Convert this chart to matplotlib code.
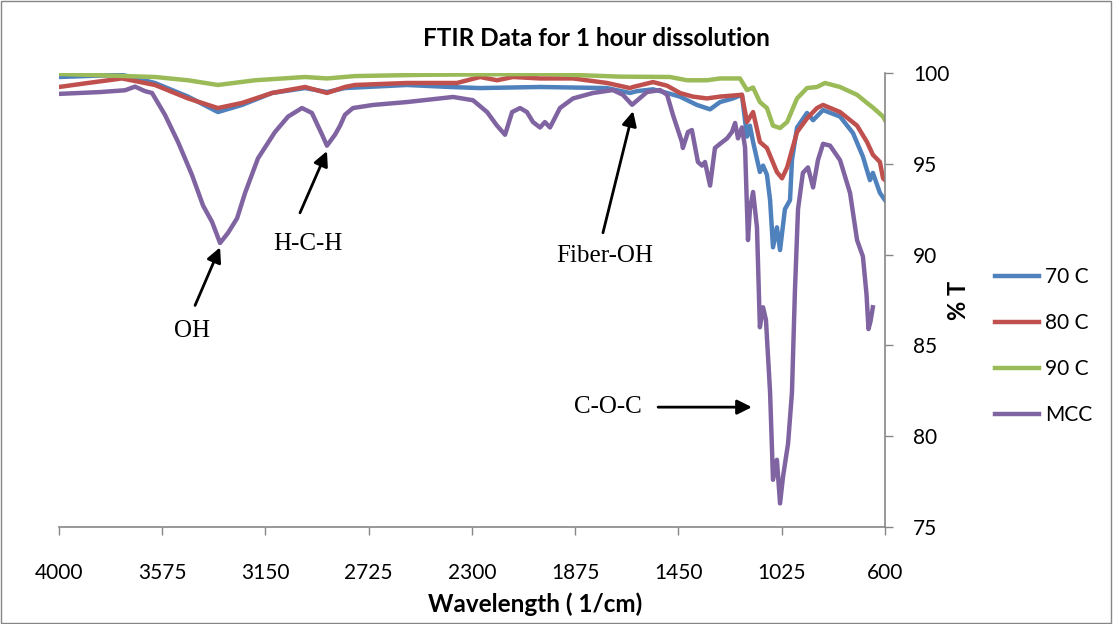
import matplotlib
matplotlib.use("Agg")
import matplotlib.pyplot as plt
from matplotlib.patches import Rectangle

# ---- data (wavenumber in 1/cm, %T) ----
wn_70 = [4000, 3741, 3605, 3469, 3346, 3247, 3123, 2987, 2897, 2823, 2568, 2391,
         2267, 2020, 1744, 1650, 1621, 1555, 1497, 1444, 1374, 1320, 1279, 1226,
         1189, 1168, 1156, 1143, 1115, 1102, 1086, 1073, 1061, 1045, 1032, 1012,
         991, 983, 962, 921, 896, 855, 785, 732, 691, 662, 650, 621, 600]
t_70 = [99.78, 99.9, 99.45, 98.7, 97.85, 98.24, 98.9, 99.17, 98.95, 99.17, 99.34, 99.23,
        99.17, 99.23, 99.17, 98.9, 99.0, 99.1, 98.9, 98.7, 98.24, 98.0, 98.4, 98.6,
        98.8, 96.5, 97.1, 96.2, 94.55, 94.9, 94.4, 93.0, 90.4, 91.5, 90.25, 92.5,
        93.0, 95.2, 97.0, 97.8, 97.4, 97.96, 97.6, 96.7, 95.4, 94.1, 94.5, 93.4, 93.0]

wn_80 = [4000, 3881, 3741, 3605, 3469, 3346, 3247, 3123, 2987, 2897, 2823, 2782,
         2568, 2362, 2267, 2197, 2131, 2020, 1884, 1744, 1650, 1637, 1555, 1497,
         1444, 1391, 1333, 1279, 1189, 1168, 1143, 1115, 1086, 1045, 1024, 1003,
         962, 921, 880, 855, 785, 715, 674, 650, 621, 608, 600]
t_80 = [99.23, 99.45, 99.7, 99.34, 98.6, 98.07, 98.35, 98.9, 99.23, 98.9, 99.23, 99.34,
        99.45, 99.45, 99.78, 99.6, 99.78, 99.7, 99.7, 99.45, 99.17, 99.23, 99.5, 99.3,
        98.9, 98.7, 98.6, 98.7, 98.8, 97.3, 97.85, 96.2, 95.87, 94.55, 94.2, 94.8,
        96.75, 97.5, 98.07, 98.24, 97.85, 97.1, 96.2, 95.5, 95.1, 94.2, 94.1]

wn_90 = [4000, 3605, 3469, 3346, 3193, 2987, 2897, 2782, 2500, 2000, 1691, 1485,
         1415, 1333, 1279, 1197, 1168, 1143, 1115, 1086, 1061, 1032, 1003, 962,
         921, 880, 847, 785, 715, 674, 650, 608, 600]
t_90 = [99.95, 99.78, 99.6, 99.34, 99.6, 99.78, 99.7, 99.83, 99.9, 99.95, 99.8, 99.78,
        99.6, 99.6, 99.7, 99.7, 99.06, 99.2, 98.4, 98.07, 97.1, 96.97, 97.3, 98.6,
        99.17, 99.23, 99.45, 99.23, 98.8, 98.35, 98.1, 97.6, 97.4]

wn_mcc = [4000, 3831, 3728, 3687, 3646, 3617, 3564, 3510, 3453, 3407, 3370, 3337,
          3304, 3267, 3234, 3181, 3111, 3057, 3000, 2959, 2917, 2897, 2864, 2843,
          2823, 2790, 2708, 2568, 2432, 2378, 2296, 2238, 2197, 2164, 2135, 2102,
          2074, 2049, 2020, 2000, 1979, 1938, 1884, 1802, 1720, 1679, 1641, 1580,
          1526, 1497, 1473, 1436, 1432, 1411, 1395, 1370, 1353, 1341, 1320, 1300,
          1279, 1250, 1230, 1217, 1205, 1189, 1176, 1164, 1156, 1143, 1127, 1115,
          1102, 1090, 1073, 1061, 1045, 1032, 1020, 999, 983, 971, 958, 938, 917,
          896, 876, 855, 826, 785, 744, 715, 691, 676, 668, 660, 650]
t_mcc = [98.85, 98.95, 99.05, 99.25, 99.0, 98.9, 97.7, 96.2, 94.4, 92.7, 91.8, 90.64,
         91.2, 92.0, 93.4, 95.3, 96.75, 97.6, 98.07, 97.8, 96.6, 96.0, 96.6, 97.1,
         97.7, 98.07, 98.24, 98.4, 98.6, 98.68, 98.5, 97.85, 97.1, 96.6, 97.85, 98.07,
         97.85, 97.3, 97.0, 97.3, 97.0, 98.07, 98.6, 98.9, 99.06, 98.8, 98.25, 98.95,
         99.06, 98.8, 97.7, 96.2, 95.87, 96.75, 96.86, 95.1, 94.9, 95.1, 93.8, 95.87,
         96.1, 96.4, 96.75, 97.25, 96.4, 97.0, 95.9, 90.8, 92.5, 93.45, 91.5, 86.0,
         87.1, 86.4, 82.4, 77.6, 78.7, 76.3, 77.75, 79.6, 82.4, 87.9, 92.5, 94.5, 94.8,
         93.7, 95.2, 96.1, 96.0, 95.2, 93.4, 90.8, 89.9, 87.8, 85.9, 86.3, 87.1]

series = [("70 C", wn_70, t_70, "#4F81BD"),
          ("80 C", wn_80, t_80, "#C0504D"),
          ("90 C", wn_90, t_90, "#9BBB59"),
          ("MCC", wn_mcc, t_mcc, "#8064A2")]

x_ticks = [4000, 3575, 3150, 2725, 2300, 1875, 1450, 1025, 600]
y_ticks = [75, 80, 85, 90, 95, 100]

# peak labels: (text, text pos, arrow tail, arrow head)
peaks = [("OH", (3453, 85.8), (3440, 87.2), (3337, 90.4)),
         ("H-C-H", (2975, 90.6), (3008, 92.3), (2897, 95.7)),
         ("Fiber-OH", (1753, 89.9), (1761, 91.2), (1637, 97.9)),
         ("C-O-C", (1740, 81.6), (1534, 81.6), (1148, 81.6))]

plt.rcParams["font.family"] = ["Lato", "DejaVu Sans"]
grey = "#868686"

fig = plt.figure(figsize=(11.13, 6.24), dpi=100)
fig.patches.append(Rectangle((0.001, 0.001), 0.997, 0.997, transform=fig.transFigure,
                             fill=False, edgecolor=grey, lw=1))
ax = fig.add_axes([59 / 1113, 1 - 527 / 624, 826 / 1113, 454 / 624])

for name, xs, ys, col in series:
    ax.plot(xs, ys, color=col, lw=3.2, label=name, solid_joinstyle="round")

ax.set_xlim(4000, 600)
ax.set_ylim(75, 100)
ax.set_xticks(x_ticks)
ax.set_yticks(y_ticks)
ax.yaxis.tick_right()
for s in ["top", "left"]:
    ax.spines[s].set_visible(False)
for s in ["bottom", "right"]:
    ax.spines[s].set_color(grey)
    ax.spines[s].set_linewidth(1.2)
ax.tick_params(axis="x", direction="out", length=6, width=1, color=grey,
               labelsize=15, pad=20)
ax.tick_params(axis="y", direction="out", length=6, width=1, color=grey,
               labelsize=15, pad=14)

for txt, tpos, tail, head in peaks:
    ax.text(tpos[0], tpos[1], txt, family="Liberation Serif", fontsize=18,
            ha="center", va="center")
    ax.annotate("", xy=head, xytext=tail,
                arrowprops=dict(arrowstyle="-|>", color="black", lw=2,
                                mutation_scale=22, shrinkA=0, shrinkB=0))

fig.text(596 / 1113, 1 - 38 / 624, "FTIR Data for 1 hour dissolution",
         fontsize=17.5, fontweight="bold", ha="center", va="center")
fig.text(535 / 1113, 1 - 604 / 624, "Wavelength ( 1/cm)",
         fontsize=17.5, fontweight="bold", ha="center", va="center")
fig.text(958 / 1113, 1 - 300 / 624, "% T", fontsize=17, fontweight="bold",
         rotation=90, ha="center", va="center")

fig.legend(loc="center left", bbox_to_anchor=(995 / 1113, 1 - 346 / 624),
           frameon=False, fontsize=15, handlelength=2.1, handletextpad=0.3,
           labelspacing=1.25, borderpad=0, borderaxespad=0)

fig.savefig("out.png", dpi=100)
